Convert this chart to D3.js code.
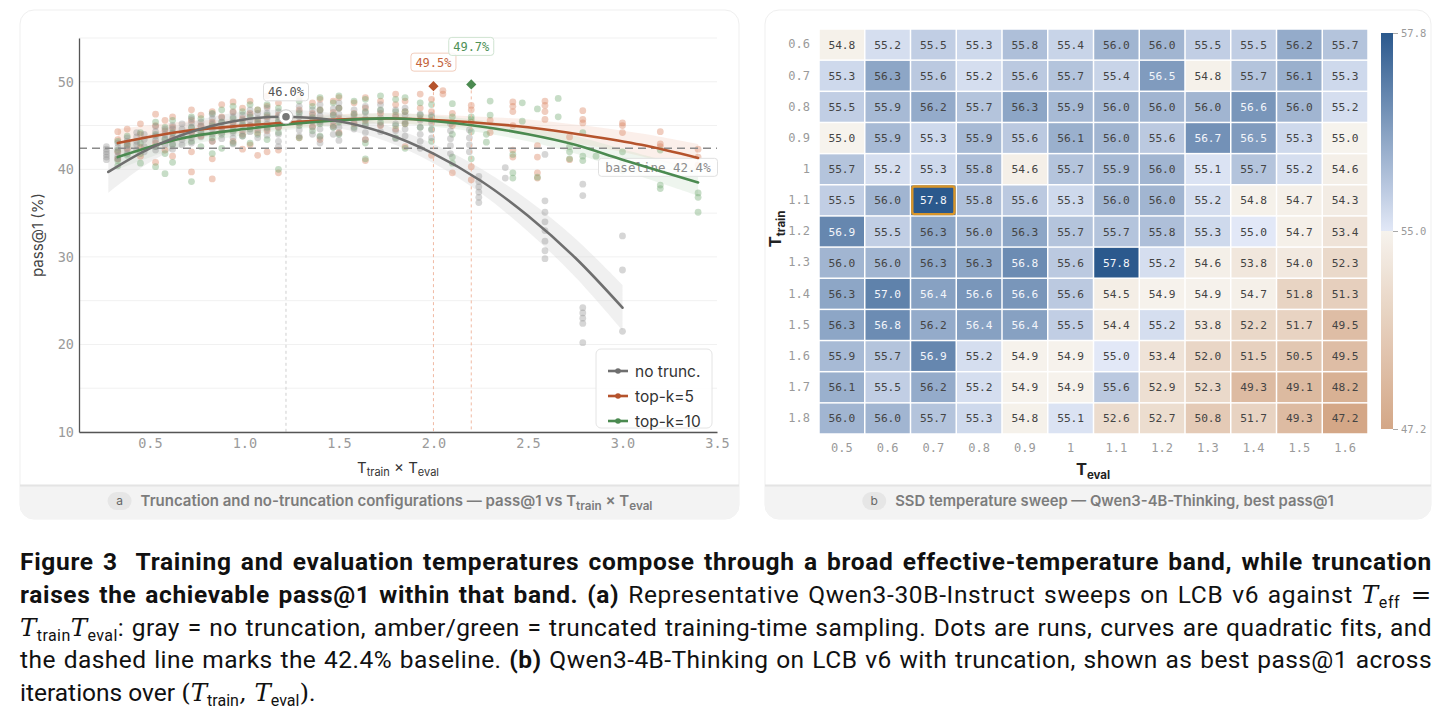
<!DOCTYPE html>
<html>
<head>
<meta charset="utf-8">
<script src="https://cdn.jsdelivr.net/npm/d3@7"></script>
<style>
  body { margin: 0; background: #fff; }
  svg { display: block; }
</style>
</head>
<body>
<svg id="fig" width="1452" height="728"></svg>
<script>
// ---------- panel a: runs (T_train x T_eval, pass@1) ----------
var noTruncRuns = [
  [0.27,[42.6,42.3,42.0,41.7,41.4,41.1]], [0.33,[43.0,42.5,42.0,41.5,41.2]], [0.38,[43.6,43.2,42.7,42.3,41.8]],
  [0.43,[44.2,43.7,43.2,42.8,42.2]], [0.47,[44.0,43.4,42.6,42.0]], [0.53,[44.9,44.3,43.8,43.3,42.6,42.2]],
  [0.58,[44.6,44.0,43.5,42.8]], [0.62,[45.0,44.6,44.1,43.6,42.9,42.3]], [0.67,[45.2,44.6,44.0,43.4,42.8]],
  [0.72,[45.8,45.3,44.8,44.2,43.6,43.0]], [0.77,[45.4,44.9,44.3,43.7]], [0.83,[46.3,45.8,45.2,44.6,44.0,43.2]],
  [0.88,[45.9,45.4,44.8,44.2,43.5]], [0.94,[46.5,46.0,45.4,44.8,44.2,43.6,42.9]], [0.99,[46.2,45.6,45.0,44.4,43.8]],
  [1.03,[46.8,46.2,45.6,45.0,44.3]], [1.07,[46.4,45.8,45.2,44.5,43.6]], [1.12,[47.0,46.4,45.8,45.2,44.6,43.9]],
  [1.18,[46.6,46.0,45.4,44.8,44.0,43.2,42.6]], [1.29,[47.2,46.6,46.0,45.3,44.5,43.8]], [1.36,[46.8,46.2,45.5,44.8,44.0]],
  [1.40,[47.4,46.7,46.1,45.4,44.6,43.7,43.0]], [1.47,[46.9,46.2,45.5,44.8,44.0]], [1.50,[47.6,47.0,46.3,45.6,44.8,44.1,43.3]],
  [1.58,[46.8,46.1,45.4,44.6]], [1.64,[47.2,46.5,45.8,45.0,44.2,43.4]], [1.72,[47.4,46.7,45.9,45.1,44.3]],
  [1.80,[46.8,46.0,45.2,44.4,43.5]], [1.85,[47.0,46.2,45.4,44.6,43.8]], [1.93,[46.3,45.6,44.8,44.0,43.2,42.4]],
  [1.99,[46.2,45.3,44.5,43.6]], [2.09,[45.2,44.4,43.5,42.7,41.8]], [2.19,[44.5,43.6,42.8,42.0]],
  [2.24,[39.2,38.6,38.0,37.4,36.8,36.2]], [2.38,[40.2,39.0]], [2.59,[41.7,36.4,35.1,34.0,33.0,31.8,30.7,29.8]],
  [2.79,[38.3,37.0,24.2,23.6,23.0,22.4,20.2]], [3.0,[32.4,28.5,21.5]]
];
var topk5Runs = [
  [0.33,[44.3,43.4,42.0,41.2]], [0.38,[44.6,43.0,42.4]], [0.45,[45.2,44.0,42.5,41.5]], [0.53,[46.3,45.0,43.0,40.8]],
  [0.58,[45.6,44.4,42.2]], [0.62,[46.0,44.8,43.5,41.5]], [0.72,[46.8,45.6,44.2,42.0,39.7]], [0.77,[46.2,45.0,43.8]],
  [0.83,[46.6,45.4,43.2,41.2,38.9]], [0.88,[47.4,46.0,44.6]], [0.94,[47.7,46.6,45.2,43.2]], [0.99,[47.0,45.8,44.0,42.3]],
  [1.03,[47.8,46.4,45.0,42.8]], [1.07,[46.8,45.6,44.2,41.6]], [1.12,[48.4,47.2,46.0,44.4,42.0]], [1.18,[47.6,46.2,44.8,42.2,39.6]],
  [1.29,[48.2,46.8,45.3,43.6]], [1.36,[47.6,46.4,44.9]], [1.40,[48.0,46.8,45.6,43.4]], [1.47,[47.8,46.5,45.0]],
  [1.50,[48.2,47.0,45.8,44.2]], [1.58,[47.6,46.4,45.2]], [1.64,[48.2,47.0,45.6,43.4,41.0]], [1.72,[47.8,46.4,45.0]],
  [1.80,[48.6,47.4,46.2,44.6]], [1.85,[47.8,46.6,45.2,42.6]], [1.93,[48.6,47.0,45.8]], [1.99,[48.0,46.6,45.6,41.6]],
  [2.05,[49.0,48.6]], [2.1,[46.4,45.0,39.6]], [2.2,[47.3,46.8,45.4,40.3,38.8]], [2.3,[45.6,44.2]],
  [2.42,[47.7,47.2,46.6,45.0,42.2,41.4]], [2.55,[42.7,41.4,39.6,39.0]], [2.59,[47.8,47.3,46.6,45.7]], [2.72,[43.7,41.1]],
  [2.79,[46.7,45.7,45.3]], [3.0,[45.3,45.0,44.2]], [3.2,[44.3,42.9,42.6]], [3.4,[42.3,41.4,40.5]]
];
var topk10Runs = [
  [0.33,[43.2,42.2,41.0,40.4]], [0.38,[43.8,42.8,41.6]], [0.45,[44.2,43.0,41.8,40.7]], [0.53,[45.4,44.0,42.6,40.3]],
  [0.58,[44.8,43.4,41.8,39.5]], [0.62,[45.6,44.2,42.8,40.8]], [0.72,[46.0,44.8,43.2,38.6]], [0.77,[45.8,44.2,42.6]],
  [0.83,[46.4,45.0,43.6,41.8]], [0.88,[46.8,45.4,44.0,42.4]], [0.94,[47.2,45.8,44.4,43.0]], [0.99,[46.6,45.2,43.8]],
  [1.03,[47.4,46.0,44.6,43.0]], [1.07,[46.8,45.4,44.0]], [1.12,[47.4,46.2,44.8,43.4]], [1.18,[47.0,45.6,44.2,40.0]],
  [1.29,[47.8,46.4,45.0,43.6]], [1.36,[47.2,45.9,44.4]], [1.40,[48.2,46.8,45.2,43.8]], [1.47,[47.6,46.2,44.8]],
  [1.50,[48.4,47.0,45.4,44.0]], [1.58,[47.8,46.3,44.8]], [1.64,[48.0,46.6,45.2,43.0,41.2]], [1.72,[48.4,46.8,45.4]],
  [1.80,[48.0,46.6,45.0,43.6]], [1.85,[48.2,46.6,45.2,42.4]], [1.93,[47.6,46.2,44.8]], [1.99,[47.4,46.0,44.6,43.2]],
  [2.1,[47.5,46.0,44.0,41.4,40.7]], [2.2,[46.0,45.7,44.3,41.2]], [2.28,[44.0,43.1]], [2.3,[47.8,46.2]],
  [2.42,[41.7,39.6,39.0]], [2.47,[47.6,45.5]], [2.55,[46.9,39.1]], [2.66,[48.1,46.0]], [2.72,[42.6,42.0,41.2]],
  [2.79,[44.2,41.5,41.0]], [2.86,[41.5]], [3.0,[42.0,40.8,39.8]], [3.2,[42.2,38.2,37.8]], [3.4,[37.3,36.8,35.1]]
];

// quadratic fit curves: [T, pass@1, band half-width]
var noTruncFit = [[0.28,39.7,2.4],[0.5,42.4,1.6],[0.75,44.5,1.1],[1.0,45.7,0.9],[1.22,46.0,0.8],[1.5,45.5,0.8],
  [1.75,44.1,0.9],[2.0,41.8,1.1],[2.25,38.7,1.4],[2.5,34.7,1.8],[2.75,29.9,2.2],[3.0,24.2,2.6]];
var topk5Fit = [[0.33,43.0,1.6],[0.66,44.3,1.1],[1.0,45.0,0.8],[1.5,45.7,0.6],[1.8,45.8,0.6],[2.25,45.3,0.7],
  [2.5,44.8,0.9],[2.8,43.9,1.1],[3.1,42.8,1.3],[3.4,41.3,1.6]];
var topk10Fit = [[0.33,41.4,1.4],[0.66,43.5,1.0],[1.0,44.6,0.7],[1.5,45.6,0.6],[1.8,45.8,0.6],[2.25,44.9,0.7],
  [2.5,44.0,0.8],[2.75,42.8,1.0],[3.0,41.1,1.2],[3.4,38.5,1.5]];

var seriesNames = ["no trunc.", "top-k=5", "top-k=10"];
var bestT = [1.22, 2.0, 2.2];
var bestV = [46.0, 49.5, 49.7];
var baselineV = 42.4;
var xTicksA = [0.5, 1.0, 1.5, 2.0, 2.5, 3.0, 3.5];
var yTicksA = [10, 20, 30, 40, 50];

// ---------- panel b: best pass@1 over (T_train, T_eval) ----------
var tEval = ["0.5","0.6","0.7","0.8","0.9","1","1.1","1.2","1.3","1.4","1.5","1.6"];
var tTrain = ["0.6","0.7","0.8","0.9","1","1.1","1.2","1.3","1.4","1.5","1.6","1.7","1.8"];
var sweep = [
  [54.8,55.2,55.5,55.3,55.8,55.4,56.0,56.0,55.5,55.5,56.2,55.7],
  [55.3,56.3,55.6,55.2,55.6,55.7,55.4,56.5,54.8,55.7,56.1,55.3],
  [55.5,55.9,56.2,55.7,56.3,55.9,56.0,56.0,56.0,56.6,56.0,55.2],
  [54.98,55.9,55.3,55.9,55.6,56.1,56.0,55.6,56.7,56.5,55.3,54.98],
  [55.7,55.2,55.3,55.8,54.6,55.7,55.9,56.0,55.1,55.7,55.2,54.6],
  [55.5,56.0,57.8,55.8,55.6,55.3,56.0,56.0,55.2,54.8,54.7,54.3],
  [56.9,55.5,56.3,56.0,56.3,55.7,55.7,55.8,55.3,55.0,54.7,53.4],
  [56.0,56.0,56.3,56.3,56.8,55.6,57.8,55.2,54.6,53.8,54.0,52.3],
  [56.3,57.0,56.4,56.6,56.6,55.6,54.5,54.9,54.9,54.7,51.8,51.3],
  [56.3,56.8,56.2,56.4,56.4,55.5,54.4,55.2,53.8,52.2,51.7,49.5],
  [55.9,55.7,56.9,55.2,54.9,54.9,55.0,53.4,52.0,51.5,50.5,49.5],
  [56.1,55.5,56.2,55.2,54.9,54.9,55.6,52.9,52.3,49.3,49.1,48.2],
  [56.0,56.0,55.7,55.3,54.8,55.1,52.6,52.7,50.8,51.7,49.3,47.2]
];
var colorTicks = [47.2, 55.0, 57.8];

var SANS = "Inter, 'Noto Sans', sans-serif";
var MONO = "'DejaVu Sans Mono', monospace";
var svg = d3.select("#fig");
var defs = svg.append("defs");

function drawCard(x, y, w, h, id) {
  defs.append("clipPath").attr("id", id).append("rect")
    .attr("x", x).attr("y", y).attr("width", w).attr("height", h).attr("rx", 14);
  var g = svg.append("g");
  g.append("rect").attr("x", x).attr("y", y).attr("width", w).attr("height", h).attr("rx", 14)
    .attr("fill", "#fff").attr("stroke", "#efefef");
  g.append("rect").attr("x", x).attr("y", 485).attr("width", w).attr("height", y + h - 485)
    .attr("fill", "#f3f3f3").attr("clip-path", "url(#" + id + ")");
  g.append("line").attr("x1", x).attr("x2", x + w).attr("y1", 485.5).attr("y2", 485.5)
    .attr("stroke", "#e4e4e4").attr("stroke-width", 2);
  return g;
}

function stripCaption(cx, letter, parts, size) {
  var g = svg.append("g");
  var t = g.append("text").attr("y", 506).attr("font-family", SANS).attr("font-size", size)
    .attr("font-weight", 600).attr("fill", "#7c7c7c");
  parts.forEach(function (p) {
    var s = t.append("tspan").text(p[0]);
    if (p[1] === "sub") s.attr("font-size", size * 0.78).attr("dy", 4);
    if (p[1] === "up") s.attr("dy", -4);
  });
  var tw = t.node().getComputedTextLength();
  var start = cx - (24 + 9 + tw) / 2;
  g.append("rect").attr("x", start).attr("y", 492).attr("width", 24).attr("height", 18).attr("rx", 9)
    .attr("fill", "#e6e6e6");
  g.append("text").attr("x", start + 12).attr("y", 505).attr("text-anchor", "middle")
    .attr("font-family", SANS).attr("font-size", 12).attr("fill", "#666").text(letter);
  t.attr("x", start + 33);
}

// ================= panel a =================
drawCard(20, 10, 719, 509, "clipA");
var xA = d3.scaleLinear().domain([0.125, 3.5]).range([79, 717]);
var yA = d3.scaleLinear().domain([10, 55]).range([432, 38]);
var gA = svg.append("g");

gA.selectAll(".grid").data(d3.range(10, 56, 5)).enter().append("line")
  .attr("x1", xA(0.125)).attr("x2", xA(3.5)).attr("y1", function (d) { return yA(d); })
  .attr("y2", function (d) { return yA(d); }).attr("stroke", "#f1f1f1");

var fits = [noTruncFit, topk5Fit, topk10Fit];
var runs = [noTruncRuns, topk5Runs, topk10Runs];
var lineCol = ["#6f6f6f", "#b5532c", "#4b8a50"];
var dotCol = ["#8a8a8a", "#d9825f", "#74aa74"];
var bandCol = ["#d4d4d4", "#f2c9b8", "#c6dfc6"];
var bandOp = [0.35, 0.3, 0.3];

var area = d3.area().curve(d3.curveCatmullRom)
  .x(function (d) { return xA(d[0]); })
  .y0(function (d) { return yA(d[1] - d[2]); })
  .y1(function (d) { return yA(d[1] + d[2]); });
var line = d3.line().curve(d3.curveCatmullRom)
  .x(function (d) { return xA(d[0]); })
  .y(function (d) { return yA(d[1]); });

[1, 2, 0].forEach(function (i) {
  gA.append("path").attr("d", area(fits[i])).attr("fill", bandCol[i]).attr("fill-opacity", bandOp[i]);
});

[1, 2, 0].forEach(function (i) {
  var pts = [];
  runs[i].forEach(function (c) { c[1].forEach(function (v) { pts.push([c[0], v]); }); });
  gA.append("g").selectAll("circle").data(pts).enter().append("circle")
    .attr("cx", function (d) { return xA(d[0]); }).attr("cy", function (d) { return yA(d[1]); })
    .attr("r", 3.4).attr("fill", dotCol[i]).attr("fill-opacity", i === 0 ? 0.35 : 0.4);
});

// baseline
gA.append("line").attr("x1", xA(0.125)).attr("x2", xA(3.5)).attr("y1", yA(baselineV)).attr("y2", yA(baselineV))
  .attr("stroke", "#8a8a8a").attr("stroke-width", 1.6).attr("stroke-dasharray", "8,5");

// vertical guides at best points
var guideCol = ["#cfcfcf", "#f0b9a3", "#f0b9a3"];
bestT.forEach(function (t, i) {
  gA.append("line").attr("x1", xA(t)).attr("x2", xA(t)).attr("y1", yA(bestV[i]) + 6).attr("y2", yA(10))
    .attr("stroke", guideCol[i]).attr("stroke-dasharray", "3,3");
});

// label boxes
function labelBox(cx, cy, txt, col, border, size, w) {
  var g = gA.append("g");
  g.append("rect").attr("x", cx - w / 2).attr("y", cy - 9).attr("width", w).attr("height", 18).attr("rx", 3)
    .attr("fill", "#fff").attr("fill-opacity", 0.85).attr("stroke", border);
  g.append("text").attr("x", cx).attr("y", cy + 4.5).attr("text-anchor", "middle")
    .attr("font-family", MONO).attr("font-size", size).attr("fill", col).text(txt);
}
var labelLift = [25, 24, 38];
var labelTxt = ["#555", "#c4643c", "#4f9157"];
var labelBorder = ["#dedede", "#f2cdbd", "#cfe3d1"];
bestT.forEach(function (t, i) {
  labelBox(xA(t), yA(bestV[i]) - labelLift[i], d3.format(".1f")(bestV[i]) + "%", labelTxt[i], labelBorder[i], 12, 45);
});
labelBox(658, yA(baselineV) + 19, "baseline " + baselineV.toFixed(1) + "%", "#8c8c8c", "#e0e0e0", 12.5, 119);

// fit curves
[1, 2, 0].forEach(function (i) {
  gA.append("path").attr("d", line(fits[i])).attr("fill", "none").attr("stroke", lineCol[i])
    .attr("stroke-width", 2.6).attr("stroke-linecap", "round");
});

// markers
gA.append("circle").attr("cx", xA(bestT[0])).attr("cy", yA(bestV[0])).attr("r", 7)
  .attr("fill", "#fff").attr("stroke", "#c8c8c8");
gA.append("circle").attr("cx", xA(bestT[0])).attr("cy", yA(bestV[0])).attr("r", 3.8).attr("fill", "#777");
[1, 2].forEach(function (i) {
  gA.append("path").attr("d", d3.symbol(d3.symbolSquare, 52)())
    .attr("transform", "translate(" + xA(bestT[i]) + "," + yA(bestV[i]) + ") rotate(45)")
    .attr("fill", lineCol[i]);
});

// axes
var axB = gA.append("g").attr("transform", "translate(0," + yA(10) + ")")
  .call(d3.axisBottom(xA).tickValues(xTicksA).tickFormat(d3.format(".1f")).tickSize(0).tickPadding(6));
var axL = gA.append("g").attr("transform", "translate(" + xA(0.125) + ",0)")
  .call(d3.axisLeft(yA).tickValues(yTicksA).tickFormat(d3.format("d")).tickSize(0).tickPadding(5));
[axB, axL].forEach(function (a) {
  a.select(".domain").attr("stroke", "#555").attr("stroke-width", 1.3);
  a.selectAll("text").attr("font-family", MONO).attr("font-size", 13.5).attr("fill", "#9a9a9a");
});

gA.append("text").attr("transform", "translate(43,235) rotate(-90)").attr("text-anchor", "middle")
  .attr("font-family", SANS).attr("font-size", 15).attr("fill", "#444").text("pass@1 (%)");
var xt = gA.append("text").attr("x", 398).attr("y", 473).attr("text-anchor", "middle")
  .attr("font-family", SANS).attr("font-size", 15).attr("fill", "#333");
xt.append("tspan").text("T");
xt.append("tspan").text("train").attr("font-size", 11).attr("dy", 3);
xt.append("tspan").text(" × T").attr("dy", -3);
xt.append("tspan").text("eval").attr("font-size", 11).attr("dy", 3);

// legend
var lg = gA.append("g");
lg.append("rect").attr("x", 596).attr("y", 349).attr("width", 116).attr("height", 79).attr("rx", 5)
  .attr("fill", "#fff").attr("fill-opacity", 0.9).attr("stroke", "#e4e4e4");
seriesNames.forEach(function (n, i) {
  var yy = 371 + i * 25;
  lg.append("line").attr("x1", 608).attr("x2", 628).attr("y1", yy).attr("y2", yy)
    .attr("stroke", lineCol[i]).attr("stroke-width", 2.6);
  lg.append("circle").attr("cx", 618).attr("cy", yy).attr("r", 2.8).attr("fill", lineCol[i]);
  lg.append("text").attr("x", 635).attr("y", yy + 5.5).attr("font-family", SANS).attr("font-size", 15.5)
    .attr("fill", "#333").text(n);
});

stripCaption(380, "a", [["Truncation and no-truncation configurations — pass@1 vs T"], ["train", "sub"], [" × T", "up"], ["eval", "sub"]], 15);

// ================= panel b =================
drawCard(765, 10, 666, 509, "clipB");
var xB = d3.scaleBand().domain(tEval).range([819, 1368]);
var yB = d3.scaleBand().domain(tTrain).range([29, 434]);
var blue = d3.scaleLinear().domain([55, 57.8]).range(["#e2e8f7", "#2b598d"]);
var tan = d3.scaleLinear().domain([47.2, 55]).range(["#d4a787", "#f6f3ed"]);
function cellColor(v) { return v >= 55 ? blue(v) : tan(v); }

var cells = [];
sweep.forEach(function (row, r) {
  row.forEach(function (v, c) { cells.push({ r: tTrain[r], c: tEval[c], v: v }); });
});
var gB = svg.append("g");
var cg = gB.selectAll(".cell").data(cells).enter().append("g");
cg.append("rect")
  .attr("x", function (d) { return xB(d.c) + 0.75; }).attr("y", function (d) { return yB(d.r) + 0.75; })
  .attr("width", xB.bandwidth() - 1.5).attr("height", yB.bandwidth() - 1.5)
  .attr("fill", function (d) { return cellColor(d.v); });
cg.append("text")
  .attr("x", function (d) { return xB(d.c) + xB.bandwidth() / 2; })
  .attr("y", function (d) { return yB(d.r) + yB.bandwidth() / 2 + 4; })
  .attr("text-anchor", "middle").attr("font-family", MONO).attr("font-size", 11.2)
  .attr("fill", function (d) { return d.v > 56.35 ? "#f3f5fa" : "#444"; })
  .text(function (d) { return d.v.toFixed(1); });

var best = cells.reduce(function (a, b) { return b.v > a.v ? b : a; });
gB.append("rect").attr("x", xB(best.c) + 1.8).attr("y", yB(best.r) + 1.8)
  .attr("width", xB.bandwidth() - 3.6).attr("height", yB.bandwidth() - 3.6).attr("rx", 2)
  .attr("fill", "none").attr("stroke", "#d8952a").attr("stroke-width", 2.4);

var rowAx = gB.append("g").attr("transform", "translate(819,0)")
  .call(d3.axisLeft(yB).tickSize(0).tickPadding(9));
var colAx = gB.append("g").attr("transform", "translate(0,434)")
  .call(d3.axisBottom(xB).tickSize(0).tickPadding(9));
[rowAx, colAx].forEach(function (a) {
  a.select(".domain").remove();
  a.selectAll("text").attr("font-family", MONO).attr("font-size", 12).attr("fill", "#9a9a9a");
});

var ty = gB.append("text").attr("transform", "translate(781,229) rotate(-90)").attr("text-anchor", "middle")
  .attr("font-family", SANS).attr("font-weight", 700).attr("fill", "#222");
ty.append("tspan").text("T").attr("font-size", 16.5);
ty.append("tspan").text("train").attr("font-size", 11.5).attr("dy", 4);
var tx = gB.append("text").attr("x", 1093).attr("y", 475).attr("text-anchor", "middle")
  .attr("font-family", SANS).attr("font-weight", 700).attr("fill", "#222");
tx.append("tspan").text("T").attr("font-size", 16.5);
tx.append("tspan").text("eval").attr("font-size", 11.5).attr("dy", 4);

// colour bar
var cbY = d3.scaleLinear().domain([47.2, 55, 57.8]).range([429, 231, 33]);
var grad = defs.append("linearGradient").attr("id", "cbar").attr("x1", 0).attr("x2", 0).attr("y1", 0).attr("y2", 1);
var stops = [];
d3.range(0, 11).forEach(function (k) { var v = 57.8 - k * 0.28; stops.push([v, blue(Math.max(v, 55))]); });
d3.range(0, 11).forEach(function (k) { var v = 54.999 - k * 0.7799; stops.push([v, tan(v)]); });
stops.forEach(function (s) {
  grad.append("stop").attr("offset", ((cbY(s[0]) - 33) / 396 * 100) + "%").attr("stop-color", s[1]);
});
gB.append("rect").attr("x", 1381).attr("y", 33).attr("width", 12).attr("height", 396).attr("fill", "url(#cbar)");
var cbAx = gB.append("g").attr("transform", "translate(1393,0)")
  .call(d3.axisRight(cbY).tickValues(colorTicks).tickFormat(d3.format(".1f")).tickSize(5).tickPadding(3));
cbAx.select(".domain").remove();
cbAx.selectAll("line").attr("stroke", "#aaa");
cbAx.selectAll("text").attr("font-family", MONO).attr("font-size", 10.5).attr("fill", "#9a9a9a");

stripCaption(1098, "b", [["SSD temperature sweep — Qwen3-4B-Thinking, best pass@1"]], 14.8);

// ================= figure caption =================
var captionLines = [
  [["b", "Figure 3  Training and evaluation temperatures compose through a broad effective-temperature band, while truncation"]],
  [["b", "raises the achievable pass@1 within that band."], ["r", " "], ["b", "(a)"],
   ["r", " Representative Qwen3-30B-Instruct sweeps on LCB v6 against "], ["T", "eff"], ["s", " ="]],
  [["T", "train"], ["T", "eval"], ["r", ": gray = no truncation, amber/green = truncated training-time sampling. Dots are runs, curves are quadratic fits, and"]],
  [["r", "the dashed line marks the 42.4% baseline. "], ["b", "(b)"],
   ["r", " Qwen3-4B-Thinking on LCB v6 with truncation, shown as best pass@1 across"]],
  [["r", "iterations over "], ["s", "("], ["T", "train"], ["s", ", "], ["T", "eval"], ["s", ")"], ["r", "."]]
];
var CAP = "Roboto, 'Liberation Sans', sans-serif";
var SERIF = "'DejaVu Serif', 'Liberation Serif', serif";
captionLines.forEach(function (segs, li) {
  var t = svg.append("text").attr("x", 20).attr("y", 570 + li * 32.8).attr("font-family", CAP)
    .attr("font-size", 24.5).attr("fill", "#111").style("white-space", "pre");
  var shift = 0;
  segs.forEach(function (s) {
    if (s[0] === "T") {
      t.append("tspan").text("T").attr("font-family", SERIF).attr("font-style", "italic").attr("dy", -shift);
      t.append("tspan").text(s[1]).attr("font-size", 16).attr("dy", 5);
      shift = 5;
    } else {
      var sp = t.append("tspan").text(s[1]).attr("dy", -shift);
      shift = 0;
      if (s[0] === "b") sp.attr("font-weight", 700);
      if (s[0] === "s") sp.attr("font-family", SERIF);
    }
  });
  if (li < captionLines.length - 1) {
    // justify: spread the slack mostly as letter spacing, the rest between words
    var txt = t.text();
    var len = t.node().getComputedTextLength();
    var ls = (1412 - len) * 0.7 / txt.length;
    t.attr("letter-spacing", ls);
    var len2 = t.node().getComputedTextLength();
    var spaces = txt.split(" ").length - 1;
    t.attr("word-spacing", (1412 - len2) / spaces);
  }
});
</script>
</body>
</html>
